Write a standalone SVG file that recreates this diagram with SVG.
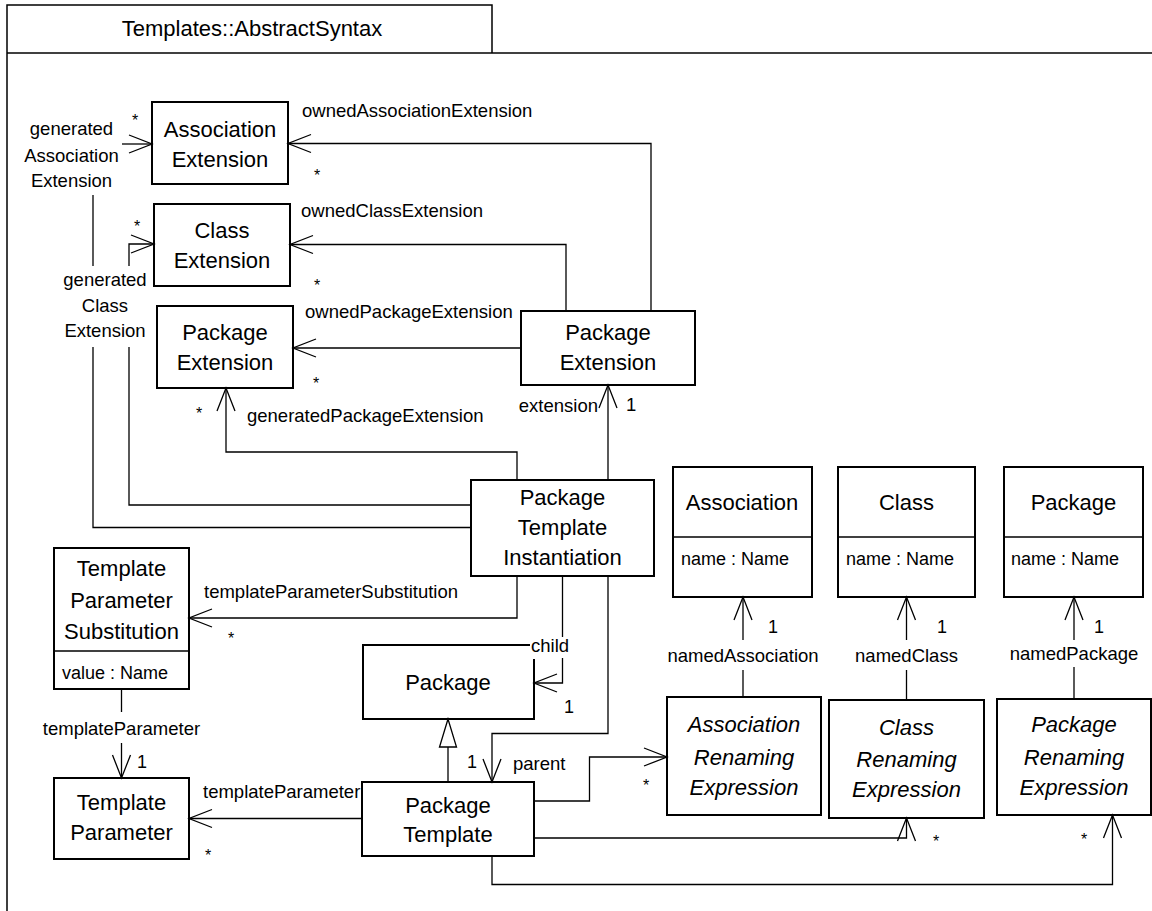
<svg xmlns="http://www.w3.org/2000/svg" width="1152" height="911" viewBox="0 0 1152 911">
<style>
text{font-family:"Liberation Sans",Arial,sans-serif;fill:#000}
.t{font-size:22px}
.n{font-size:22px;text-anchor:middle}
.i{font-size:22px;text-anchor:middle;font-style:italic}
.a{font-size:18px}
.l{font-size:18.5px}
.lm{font-size:18.5px;text-anchor:middle}
.s{font-size:18px;text-anchor:middle}
.st{font-size:16px;text-anchor:middle}
.box{fill:#fff;stroke:#000;stroke-width:2}
.div{stroke:#000;stroke-width:1.5;fill:none}
.c{fill:none;stroke:#000;stroke-width:1.3}
.arr{marker-end:url(#open)}
.frame{fill:none;stroke:#000;stroke-width:1.5}
</style>
<defs>
<marker id="open" markerUnits="userSpaceOnUse" viewBox="-25 -11 27 22" refX="0" refY="0" markerWidth="27" markerHeight="22" orient="auto">
<path d="M-23,-9 L0,0 L-23,9" fill="none" stroke="#000" stroke-width="1.3"/>
</marker>
<marker id="gen" markerUnits="userSpaceOnUse" viewBox="-30 -11 32 22" refX="0" refY="0" markerWidth="32" markerHeight="22" orient="auto">
<path d="M0,0 L-28,-8.5 L-28,8.5 Z" fill="#fff" stroke="#000" stroke-width="1.3"/>
</marker>
</defs>
<rect width="1152" height="911" fill="#fff"/>
<g id="frame">
<path class="frame" d="M7,911 L7,5 L492,5 L492,53"/>
<line class="frame" x1="7" y1="53" x2="1152" y2="53"/>
<text class="t" x="252" y="35.5" text-anchor="middle">Templates::AbstractSyntax</text>
</g>

<g id="node-AssociationExtension">
<rect class="box" x="152" y="102" width="136" height="82"/>
<text class="n" x="220" y="137">Association</text>
<text class="n" x="220" y="167">Extension</text>
</g>
<g id="node-ClassExtension">
<rect class="box" x="154" y="204" width="136" height="82"/>
<text class="n" x="222" y="238">Class</text>
<text class="n" x="222" y="268">Extension</text>
</g>
<g id="node-PackageExtensionTarget">
<rect class="box" x="157" y="306" width="136" height="82"/>
<text class="n" x="225" y="340">Package</text>
<text class="n" x="225" y="370">Extension</text>
</g>
<g id="node-PackageExtension">
<rect class="box" x="521" y="311" width="174" height="74"/>
<text class="n" x="608" y="340">Package</text>
<text class="n" x="608" y="370">Extension</text>
</g>
<g id="node-PackageTemplateInstantiation">
<rect class="box" x="471" y="480" width="183" height="96"/>
<text class="n" x="562.5" y="505">Package</text>
<text class="n" x="562.5" y="535">Template</text>
<text class="n" x="562.5" y="565">Instantiation</text>
</g>
<g id="node-TemplateParameterSubstitution">
<rect class="box" x="54" y="548" width="135" height="141"/>
<line class="div" x1="54" y1="651" x2="189" y2="651"/>
<text class="n" x="121.5" y="576">Template</text>
<text class="n" x="121.5" y="608">Parameter</text>
<text class="n" x="121.5" y="639">Substitution</text>
<text class="a" x="62" y="679">value : Name</text>
</g>
<g id="node-TemplateParameter">
<rect class="box" x="54" y="778" width="135" height="81"/>
<text class="n" x="121.5" y="810">Template</text>
<text class="n" x="121.5" y="840">Parameter</text>
</g>
<g id="node-Package">
<rect class="box" x="363" y="645" width="171" height="74"/>
<text class="n" x="448" y="690">Package</text>
</g>
<g id="node-PackageTemplate">
<rect class="box" x="362" y="782" width="172" height="74"/>
<text class="n" x="448" y="813">Package</text>
<text class="n" x="448" y="842">Template</text>
</g>
<g id="node-Association">
<rect class="box" x="673" y="467" width="139" height="130"/>
<line class="div" x1="673" y1="537" x2="812" y2="537"/>
<text class="n" x="742" y="510">Association</text>
<text class="a" x="681" y="565">name : Name</text>
</g>
<g id="node-Class">
<rect class="box" x="838" y="467" width="137" height="130"/>
<line class="div" x1="838" y1="537" x2="975" y2="537"/>
<text class="n" x="906.5" y="510">Class</text>
<text class="a" x="846" y="565">name : Name</text>
</g>
<g id="node-PackageNamed">
<rect class="box" x="1004" y="467" width="139" height="130"/>
<line class="div" x1="1004" y1="537" x2="1143" y2="537"/>
<text class="n" x="1073.5" y="510">Package</text>
<text class="a" x="1011" y="565">name : Name</text>
</g>
<g id="node-AssociationRenamingExpression">
<rect class="box" x="667" y="697" width="154" height="118"/>
<text class="i" x="744" y="732">Association</text>
<text class="i" x="744" y="765">Renaming</text>
<text class="i" x="744" y="795">Expression</text>
</g>
<g id="node-ClassRenamingExpression">
<rect class="box" x="829" y="700" width="155" height="118"/>
<text class="i" x="906.5" y="735">Class</text>
<text class="i" x="906.5" y="767">Renaming</text>
<text class="i" x="906.5" y="797">Expression</text>
</g>
<g id="node-PackageRenamingExpression">
<rect class="box" x="997" y="699" width="154" height="116"/>
<text class="i" x="1074" y="732">Package</text>
<text class="i" x="1074" y="765">Renaming</text>
<text class="i" x="1074" y="795">Expression</text>
</g>

<g id="connectors">
<!-- ownedAssociationExtension -->
<polyline class="c arr" points="651,311 651,143.5 288,143.5"/>
<text class="l" x="302" y="117">ownedAssociationExtension</text>
<text class="st" x="317" y="181">*</text>
<!-- ownedClassExtension -->
<polyline class="c arr" points="566,311 566,244.5 290,244.5"/>
<text class="l" x="301" y="217">ownedClassExtension</text>
<text class="st" x="317" y="291">*</text>
<!-- ownedPackageExtension -->
<polyline class="c arr" points="521,348 293,348"/>
<text class="l" x="305" y="318">ownedPackageExtension</text>
<text class="st" x="316" y="389">*</text>
<!-- generatedPackageExtension -->
<polyline class="c arr" points="517,480 517,452 226,452 226,388"/>
<text class="l" x="247" y="422">generatedPackageExtension</text>
<text class="st" x="199" y="419">*</text>
<!-- generatedClassExtension -->
<polyline class="c" points="471,505 129,505 129,347"/>
<polyline class="c arr" points="129,266 129,244 154,244"/>
<text class="lm" x="105" y="286">generated</text>
<text class="lm" x="105" y="312">Class</text>
<text class="lm" x="105" y="337">Extension</text>
<text class="st" x="137" y="232">*</text>
<!-- generatedAssociationExtension -->
<polyline class="c" points="471,527.5 93,527.5 93,347"/>
<line class="c" x1="93" y1="266" x2="93" y2="195"/>
<polyline class="c arr" points="122,144 152,144"/>
<text class="lm" x="71.5" y="135">generated</text>
<text class="lm" x="71.5" y="162">Association</text>
<text class="lm" x="71.5" y="187">Extension</text>
<text class="st" x="135" y="126">*</text>
<!-- extension -->
<polyline class="c arr" points="608,480 608,385"/>
<text class="l" x="598" y="412" text-anchor="end">extension</text>
<text class="l" x="626" y="411">1</text>
<!-- templateParameterSubstitution -->
<polyline class="c arr" points="517,576 517,618 189,618"/>
<text class="l" x="204" y="598">templateParameterSubstitution</text>
<text class="st" x="231" y="644">*</text>
<!-- child -->
<line class="c" x1="562.5" y1="576" x2="562.5" y2="638"/>
<rect x="530" y="637" width="42" height="22" fill="#fff"/>
<polyline class="c arr" points="562.5,658 562.5,683 534,683"/>
<text class="l" x="531" y="652">child</text>
<text class="s" x="569" y="713">1</text>
<!-- parent -->
<polyline class="c arr" points="608,576 608,733.5 492,733.5 492,782"/>
<text class="s" x="472" y="768">1</text>
<text class="l" x="513" y="770">parent</text>
<!-- generalization -->
<polyline class="c" points="448,782 448,719" marker-end="url(#gen)"/>
<!-- templateParameter (PackageTemplate) -->
<polyline class="c arr" points="362,818.5 189,818.5"/>
<text class="l" x="203" y="798">templateParameter</text>
<text class="st" x="208" y="861">*</text>
<!-- templateParameter (Substitution) -->
<line class="c" x1="121.5" y1="689" x2="121.5" y2="712"/>
<polyline class="c arr" points="121.5,743 121.5,778"/>
<text class="lm" x="121.5" y="735">templateParameter</text>
<text class="s" x="142" y="768">1</text>
<!-- PackageTemplate -> AssociationRenamingExpression -->
<polyline class="c arr" points="534,801 589.5,801 589.5,757 667,757"/>
<text class="st" x="646" y="791">*</text>
<!-- PackageTemplate -> ClassRenamingExpression -->
<polyline class="c arr" points="534,838 906.5,838 906.5,818"/>
<text class="st" x="936" y="847">*</text>
<!-- PackageTemplate -> PackageRenamingExpression -->
<polyline class="c arr" points="492,856 492,884.5 1112.5,884.5 1112.5,815"/>
<text class="st" x="1084" y="845">*</text>
<!-- namedAssociation -->
<line class="c" x1="743" y1="697" x2="743" y2="670"/>
<polyline class="c arr" points="743,640 743,597"/>
<text class="lm" x="743" y="662">namedAssociation</text>
<text class="s" x="773" y="633">1</text>
<!-- namedClass -->
<line class="c" x1="906.5" y1="700" x2="906.5" y2="670"/>
<polyline class="c arr" points="906.5,640 906.5,597"/>
<text class="lm" x="906.5" y="662">namedClass</text>
<text class="s" x="942" y="633">1</text>
<!-- namedPackage -->
<line class="c" x1="1074" y1="699" x2="1074" y2="667"/>
<polyline class="c arr" points="1074,640 1074,597"/>
<text class="lm" x="1074" y="660">namedPackage</text>
<text class="s" x="1099" y="633">1</text>
</g>
</svg>
